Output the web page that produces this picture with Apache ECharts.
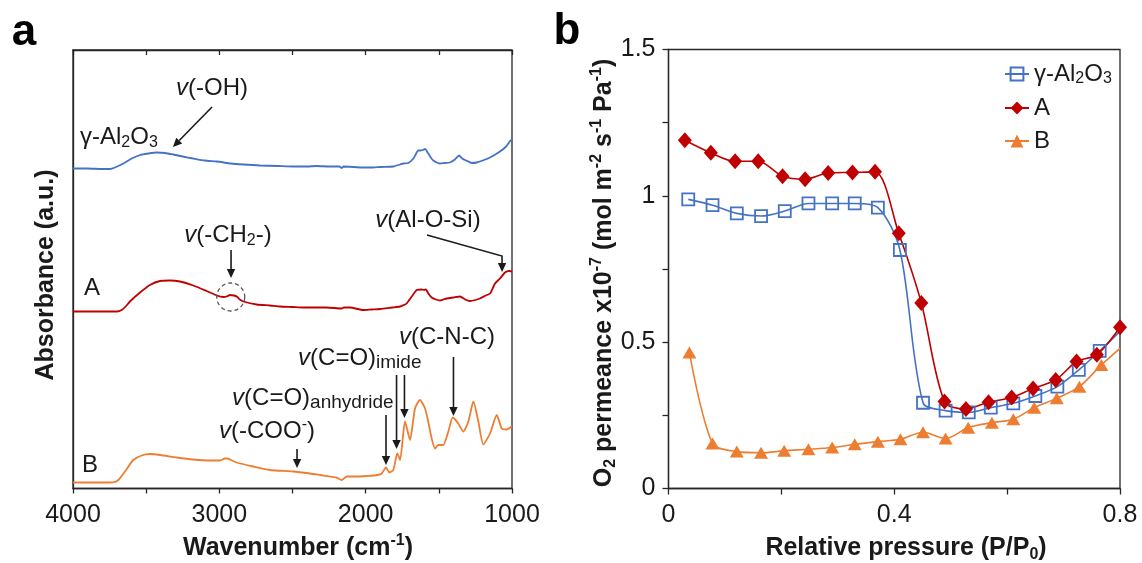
<!DOCTYPE html>
<html><head><meta charset="utf-8">
<script src="https://cdn.jsdelivr.net/npm/echarts@6/dist/echarts.min.js"></script>
<style>html,body{margin:0;padding:0;background:#fff}#c{width:1142px;height:563px}</style>
</head><body><div id="c"></div>
<script>
// ---------- Panel a: FTIR spectra [wavenumber (cm-1), absorbance (a.u., offset)] ----------
const irAl2O3 = [[4000,320],[3900,320],[3800,319.5],[3747,319.5],[3713,321],[3656,325],[3599,330],[3542,333.5],[3485,335],[3428,336],[3371,335.5],[3315,334],[3250,332],[3178,330],[3100,328],[3018,327],[2920,325],[2836,324],[2722,323],[2600,322.5],[2494,322],[2400,322],[2335,322.5],[2250,322],[2180,322],[2164,320.5],[2150,322],[2016,321],[1950,321],[1900,321.5],[1811,322],[1765,324],[1743,325],[1709,325.5],[1674,330],[1640,338],[1625,338],[1610,338.5],[1594,339.5],[1572,335],[1555,331],[1538,328],[1492,325],[1460,325.5],[1424,326],[1390,329],[1362,333],[1340,330],[1321,328.5],[1298,327],[1275,325.5],[1241,326],[1200,328],[1150,331],[1082,337],[1040,342],[1025,345],[1010,348],[1000,347]];
const irA = [[4000,177],[3800,177],[3701,177],[3667,178.5],[3640,182],[3611,187],[3542,196],[3474,203.5],[3405,207.5],[3337,208],[3269,207],[3178,203],[3087,197.5],[3018,193],[2973,191.5],[2950,192],[2927,193.5],[2900,193],[2881,192],[2860,189],[2836,187],[2745,184],[2654,183],[2585,182],[2500,181.5],[2426,181],[2266,181],[2164,180],[2150,181],[2107,181],[2016,178.5],[1960,179],[1902,179.5],[1820,181],[1765,182],[1740,183.5],[1720,185],[1685,192],[1651,198.5],[1617,199],[1600,198.5],[1588,199],[1572,195],[1549,191],[1520,189],[1492,188],[1470,189],[1446,190],[1400,191],[1355,192],[1320,189],[1287,187.5],[1250,188.5],[1219,190],[1180,193],[1150,195],[1116,205],[1082,210],[1048,216],[1020,217.5],[1000,217]];
const irB = [[4000,6],[3800,6],[3725,6.2],[3690,8.5],[3645,17],[3588,28.5],[3531,33],[3474,34.5],[3405,33.5],[3291,31],[3178,29],[3064,28],[2995,28],[2961,30],[2940,30],[2927,29],[2881,26],[2768,22],[2654,18.5],[2494,17],[2380,15],[2312,13.5],[2200,11],[2164,8.5],[2130,12],[2050,12],[1993,12.5],[1920,13.5],[1890,15],[1861,21],[1838,16],[1811,18.5],[1784,35],[1765,28.5],[1731,67],[1697,48.5],[1663,80],[1629,88.5],[1594,80],[1570,65],[1549,50],[1526,40],[1504,43.5],[1470,43.5],[1435,57],[1405,71],[1367,65],[1333,57],[1298,67],[1264,87],[1230,67],[1196,44],[1150,55],[1104,73.5],[1070,60],[1036,59],[1000,62.5]];
const wnTickLabels = [4000, 3000, 2000, 1000];

// ---------- Panel b: O2 permeance x10^-7 vs relative pressure ----------
const pressAl = [0.035,0.078,0.121,0.164,0.206,0.248,0.290,0.330,0.371,0.410,0.451,0.491,0.532,0.571,0.611,0.650,0.689,0.727,0.764,0.800];
const permAl  = [0.988,0.968,0.940,0.931,0.948,0.974,0.974,0.974,0.960,0.815,0.293,0.266,0.260,0.276,0.291,0.316,0.348,0.405,0.470,0.537];
const pressA  = [0.029,0.075,0.118,0.159,0.202,0.242,0.283,0.326,0.366,0.408,0.448,0.489,0.527,0.567,0.608,0.646,0.686,0.723,0.759,0.800];
const permA   = [1.190,1.147,1.118,1.118,1.067,1.057,1.078,1.080,1.082,0.872,0.634,0.297,0.272,0.295,0.311,0.342,0.371,0.434,0.457,0.551];
const pressB  = [0.037,0.078,0.121,0.164,0.205,0.248,0.290,0.330,0.371,0.411,0.451,0.491,0.531,0.573,0.611,0.648,0.688,0.728,0.767,0.800];
const permB   = [0.465,0.154,0.126,0.122,0.129,0.134,0.140,0.151,0.160,0.168,0.192,0.171,0.208,0.225,0.237,0.276,0.308,0.348,0.422,0.479];
const seriesNamesB = ['γ-Al2O3', 'A', 'B'];
const pTickLabels = ['0', '0.4', '0.8'];
const permTickLabels = ['0', '0.5', '1', '1.5'];

const F = '"Liberation Sans", Arial, Helvetica, sans-serif';
const INK = '#1a1a1a';
const AX = '#262626';
const BLUE = '#4472C4', RED = '#C00000', ORANGE = '#ED7D31';

function zip(xs, ys, lastNoSymbol) {
  return xs.map((x, i) => (lastNoSymbol && i === xs.length - 1) ? {value: [x, ys[i]], symbol: 'none'} : [x, ys[i]]);
}

const chart = echarts.init(document.getElementById('c'), null, {renderer: 'canvas'});

const axLine = {show: true, lineStyle: {color: AX, width: 1.3}};
const tickStyle = {color: AX, width: 1.3};

const option = {
  animation: false,
  backgroundColor: '#fff',
  grid: [
    {left: 73, top: 50, width: 439, height: 438.5, show: true, borderColor: AX, borderWidth: 1.3, backgroundColor: 'transparent'},
    {left: 668.5, top: 49.5, width: 451.5, height: 439, show: true, borderColor: AX, borderWidth: 1.3, backgroundColor: 'transparent'}
  ],
  xAxis: [
    {type: 'value', gridIndex: 0, min: 1000, max: 4000, interval: 500, inverse: true, position: 'bottom',
     axisLine: axLine, axisTick: {show: true, inside: false, length: 5, lineStyle: tickStyle},
     axisLabel: {fontSize: 25, fontFamily: F, color: INK, margin: 14,
       formatter: v => wnTickLabels.includes(Math.round(v)) ? String(Math.round(v)) : ''},
     splitLine: {show: false}},
    {type: 'value', gridIndex: 0, min: 1000, max: 4000, interval: 500, inverse: true, position: 'top',
     axisLine: axLine, axisTick: {show: true, inside: true, length: 5, lineStyle: tickStyle},
     axisLabel: {show: false}, splitLine: {show: false}},
    {type: 'value', gridIndex: 1, min: 0, max: 0.8, interval: 0.2, position: 'bottom',
     axisLine: axLine, axisTick: {show: true, inside: false, length: 6, lineStyle: tickStyle},
     axisLabel: {fontSize: 25, fontFamily: F, color: INK, margin: 14,
       formatter: v => { const s = String(+v.toFixed(2)); return pTickLabels.includes(s) ? s : ''; }},
     splitLine: {show: false}}
  ],
  yAxis: [
    {type: 'value', gridIndex: 0, min: 0, max: 438.5, axisLine: axLine, axisTick: {show: false},
     axisLabel: {show: false}, splitLine: {show: false}},
    {type: 'value', gridIndex: 1, min: 0, max: 1.5, interval: 0.25,
     axisLine: axLine, axisTick: {show: true, inside: false, length: 6, lineStyle: tickStyle},
     axisLabel: {fontSize: 25, fontFamily: F, color: INK, margin: 13,
       formatter: v => { const s = String(+v.toFixed(2)); return permTickLabels.includes(s) ? s : ''; }},
     splitLine: {show: false}}
  ],
  legend: {
    data: seriesNamesB, orient: 'vertical', left: 999, top: 57, itemGap: 9,
    itemWidth: 24, itemHeight: 16,
    formatter: name => name === 'γ-Al2O3' ? '{n|γ-Al}{s|2}{n|O}{s|3}' : '{n|' + name + '}',
    textStyle: {fontSize: 24, fontFamily: F, color: INK,
      rich: {n: {fontSize: 24, fontFamily: F, color: INK, lineHeight: 26},
             s: {fontSize: 16, fontFamily: F, color: INK, verticalAlign: 'bottom', lineHeight: 16}}}
  },
  series: [
    {name: 'IR γ-Al2O3', type: 'line', xAxisIndex: 0, yAxisIndex: 0, data: irAl2O3, showSymbol: false, smooth: 0.2,
     lineStyle: {color: BLUE, width: 1.8}, itemStyle: {color: BLUE}},
    {name: 'IR A', type: 'line', xAxisIndex: 0, yAxisIndex: 0, data: irA, showSymbol: false, smooth: 0.2,
     lineStyle: {color: RED, width: 1.8}, itemStyle: {color: RED}},
    {name: 'IR B', type: 'line', xAxisIndex: 0, yAxisIndex: 0, data: irB, showSymbol: false, smooth: 0.2,
     lineStyle: {color: ORANGE, width: 1.8}, itemStyle: {color: ORANGE}},
    {name: 'γ-Al2O3', type: 'line', xAxisIndex: 2, yAxisIndex: 1, data: zip(pressAl, permAl, true),
     smooth: 0.3, symbol: 'rect', symbolSize: 12,
     lineStyle: {color: BLUE, width: 1.6},
     itemStyle: {color: 'rgba(255,255,255,0)', borderColor: BLUE, borderWidth: 1.8}},
    {name: 'A', type: 'line', xAxisIndex: 2, yAxisIndex: 1, data: zip(pressA, permA, false),
     smooth: 0.3, symbol: 'diamond', symbolSize: [14, 16],
     lineStyle: {color: RED, width: 1.6}, itemStyle: {color: RED}},
    {name: 'B', type: 'line', xAxisIndex: 2, yAxisIndex: 1, data: zip(pressB, permB, true),
     smooth: 0.3, symbol: 'triangle', symbolSize: [14, 12],
     lineStyle: {color: ORANGE, width: 1.6}, itemStyle: {color: ORANGE}}
  ]
};
chart.setOption(option);

// ---------- Annotations (placed in data coordinates of panel a) ----------
const R = {
  n:  {fontSize: 24, fontFamily: F, fill: INK, lineHeight: 28},
  i:  {fontSize: 24, fontFamily: F, fill: INK, fontStyle: 'italic', lineHeight: 28},
  sb: {fontSize: 16, fontFamily: F, fill: INK, verticalAlign: 'bottom', lineHeight: 18},
  sp: {fontSize: 16, fontFamily: F, fill: INK, verticalAlign: 'top', lineHeight: 18},
  sb2:{fontSize: 19, fontFamily: F, fill: INK, verticalAlign: 'bottom', lineHeight: 16},
  nb: {fontSize: 25, fontFamily: F, fill: INK, fontWeight: 'bold', lineHeight: 30},
  bsp:{fontSize: 16, fontFamily: F, fill: INK, fontWeight: 'bold', verticalAlign: 'top', lineHeight: 18},
  bsb:{fontSize: 16, fontFamily: F, fill: INK, fontWeight: 'bold', verticalAlign: 'bottom', lineHeight: 18}
};
const annoTexts = [
  {at: [3952, 351.5], align: 'left',   text: '{n|γ-Al}{sb|2}{n|O}{sb|3}'},
  {at: [3050, 400.5], align: 'center', text: '{i|v}{n|(-OH)}'},
  {at: [2941, 253.5], align: 'center', text: '{i|v}{n|(-CH}{sb|2}{n|-)}'},
  {at: [1574, 268.5], align: 'center', text: '{i|v}{n|(Al-O-Si)}'},
  {at: [3870, 200.5], align: 'center', text: '{n|A}'},
  {at: [3884, 23.5],  align: 'center', text: '{n|B}'},
  {at: [2674, 57.5],  align: 'center', text: '{i|v}{n|(-COO}{sp|-}{n|)}'},
  {at: [2913, 90.5],  align: 'left',   text: '{i|v}{n|(C=O)}{sb2|anhydride}'},
  {at: [2462, 130.5], align: 'left',   text: '{i|v}{n|(C=O)}{sb2|imide}'},
  {at: [1444, 151.5], align: 'center', text: '{i|v}{n|(C-N-C)}'}
];
const annoArrows = [
  [[3050, 381.5], [3317, 341.5]],
  [[2920, 238.5], [2920, 210.5]],
  [[1581, 253.5], [1068, 232.5], [1068, 216.5]],
  [[2469, 39.5], [2469, 20.5]],
  [[1861, 73.5], [1861, 23.5]],
  [[1789, 113.5], [1789, 39.5]],
  [[1735, 113.5], [1735, 70.5]],
  [[1400, 131.5], [1400, 72.5]]
];
const annoCircles = [{at: [2922, 191.5], r: 14}];

function toPx(p) { return chart.convertToPixel({xAxisIndex: 0, yAxisIndex: 0}, p); }

function arrowEls(ptsData) {
  const pts = ptsData.map(toPx);
  const n = pts.length, a = pts[n - 2], b = pts[n - 1];
  const dx = b[0] - a[0], dy = b[1] - a[1], L = Math.hypot(dx, dy);
  const ux = dx / L, uy = dy / L, head = 9, hw = 4.2;
  const base = [b[0] - ux * head, b[1] - uy * head];
  return [
    {type: 'polyline', silent: true, z: 50, shape: {points: pts.slice(0, n - 1).concat([base])},
     style: {stroke: INK, lineWidth: 1.6, fill: 'none'}},
    {type: 'polygon', silent: true, z: 50,
     shape: {points: [b, [base[0] - uy * hw, base[1] + ux * hw], [base[0] + uy * hw, base[1] - ux * hw]]},
     style: {fill: INK}}
  ];
}

const graphics = [];
annoTexts.forEach(t => {
  const p = toPx(t.at);
  graphics.push({type: 'text', x: p[0], y: p[1], silent: true, z: 50,
    style: {text: t.text, rich: R, align: t.align, verticalAlign: 'middle', fill: INK, fontSize: 24, fontFamily: F}});
});
annoArrows.forEach(a => arrowEls(a).forEach(e => graphics.push(e)));
annoCircles.forEach(c => {
  const p = toPx(c.at);
  graphics.push({type: 'circle', silent: true, z: 50, shape: {cx: p[0], cy: p[1], r: c.r},
    style: {stroke: '#555', fill: 'none', lineWidth: 1.3, lineDash: [4, 3]}});
});
// panel letters and axis titles
graphics.push(
  {type: 'text', x: 24, y: 33, silent: true, style: {text: 'a', fontSize: 44, fontWeight: 'bold', fontFamily: F, fill: '#000', align: 'center', verticalAlign: 'middle'}},
  {type: 'text', x: 567, y: 32, silent: true, style: {text: 'b', fontSize: 44, fontWeight: 'bold', fontFamily: F, fill: '#000', align: 'center', verticalAlign: 'middle'}},
  {type: 'text', x: 46, y: 275, rotation: Math.PI / 2, silent: true,
   style: {text: '{nb|Absorbance (a.u.)}', rich: R, align: 'center', verticalAlign: 'middle'}},
  {type: 'text', x: 298, y: 548, silent: true,
   style: {text: '{nb|Wavenumber (cm}{bsp|-1}{nb|)}', rich: R, align: 'center', verticalAlign: 'middle'}},
  {type: 'text', x: 604, y: 273, rotation: Math.PI / 2, silent: true,
   style: {text: '{nb|O}{bsb|2}{nb| permeance x10}{bsp|-7}{nb| (mol m}{bsp|-2}{nb| s}{bsp|-1}{nb| Pa}{bsp|-1}{nb|)}', rich: R, align: 'center', verticalAlign: 'middle'}},
  {type: 'text', x: 906, y: 548, silent: true,
   style: {text: '{nb|Relative pressure (P/P}{bsb|0}{nb|)}', rich: R, align: 'center', verticalAlign: 'middle'}}
);
chart.setOption({graphic: {elements: graphics}});
</script>
</body></html>
